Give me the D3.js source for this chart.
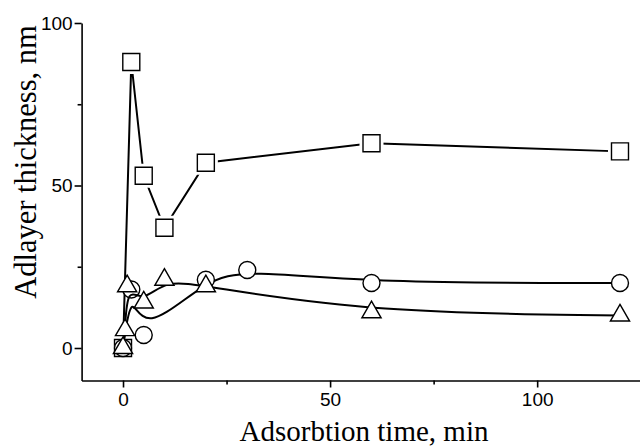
<!DOCTYPE html>
<html>
<head>
<meta charset="utf-8">
<script src="https://cdn.jsdelivr.net/npm/d3@7"></script>
<style>
    body { margin: 0; background: #fff; }
    svg { display: block; }
</style>
</head>
<body>
<div id="chartArea"></div>
<script>
// Data
const squareTime = [0, 2, 5, 10, 20, 60, 120];
const squareThick = [0, 88, 53, 37, 57, 63, 60.5];

const circleTime = [0, 2, 5, 20, 30, 60, 120];
const circleThick = [0, 18, 4, 21, 24, 20, 20];

const triangleTime = [0, 0.5, 1, 5, 10, 20, 60, 120];
const triangleThick = [0, 5.5, 19, 14, 21, 19, 11, 10];

const xTicks = [0, 50, 100];
const xMinorTicks = [25, 75, 125];
const yTicks = [0, 50, 100];
const yMinorTicks = [25, 75];

const width = 640;
const height = 447;

const svg = d3.select('#chartArea')
    .append('svg')
    .attr('width', width)
    .attr('height', height);

// Scales
const xScale = d3.scaleLinear()
    .domain([-10, 125])
    .range([81.6, 640.7]);
const yScale = d3.scaleLinear()
    .domain([-10, 100])
    .range([380.5, 23]);

// Axes
const tickFont = '"Liberation Sans", Arial, sans-serif';

svg.append('g')
    .attr('transform', `translate(0,${yScale(-10)})`)
    .call(d3.axisBottom(xScale).tickValues(xTicks).tickSize(7).tickSizeOuter(0).tickPadding(5));
svg.append('g')
    .attr('transform', `translate(0,${yScale(-10)})`)
    .call(d3.axisBottom(xScale).tickValues(xMinorTicks).tickSize(4).tickSizeOuter(0).tickFormat(''))
    .select('.domain').remove();

svg.append('g')
    .attr('transform', `translate(${xScale(-10)},0)`)
    .call(d3.axisLeft(yScale).tickValues(yTicks).tickSize(7).tickSizeOuter(0).tickPadding(2));
svg.append('g')
    .attr('transform', `translate(${xScale(-10)},0)`)
    .call(d3.axisLeft(yScale).tickValues(yMinorTicks).tickSize(4).tickSizeOuter(0).tickFormat(''))
    .select('.domain').remove();

svg.selectAll('.domain, .tick line')
    .attr('stroke', '#000')
    .attr('stroke-width', 1.6);
svg.selectAll('.tick text')
    .attr('fill', '#000')
    .style('font-family', tickFont)
    .style('font-size', '19px');

// Axis titles
svg.append('text')
    .attr('x', 364)
    .attr('y', 441)
    .attr('text-anchor', 'middle')
    .style('font-family', '"Liberation Serif", "Times New Roman", serif')
    .style('font-size', '29px')
    .text('Adsorbtion time, min');

svg.append('text')
    .attr('transform', 'translate(36,162) rotate(-90)')
    .attr('text-anchor', 'middle')
    .style('font-family', '"Liberation Serif", "Times New Roman", serif')
    .style('font-size', '30.5px')
    .text('Adlayer thickness, nm');

// Helper to zip arrays into points
function toPoints(xs, ys) {
    return xs.map((t, i) => ({t: t, v: ys[i]}));
}

// Draw one series: line, then markers
function drawSeries(xs, ys, curve, symbolType, symbolSize, halo) {
    const pts = toPoints(xs, ys);
    const g = svg.append('g');

    g.append('path')
        .datum(pts)
        .attr('fill', 'none')
        .attr('stroke', '#000')
        .attr('stroke-width', 2)
        .attr('d', d3.line()
            .curve(curve)
            .x(d => xScale(d.t))
            .y(d => yScale(d.v))
        );

    if (halo) {
        g.selectAll('path.halo')
            .data(pts)
            .enter()
            .append('path')
            .attr('class', 'halo')
            .attr('transform', d => `translate(${xScale(d.t)},${yScale(d.v)})`)
            .attr('d', d3.symbol().type(symbolType).size(halo))
            .attr('fill', '#fff');
    }

    g.selectAll('path.marker')
        .data(pts)
        .enter()
        .append('path')
        .attr('class', 'marker')
        .attr('transform', d => `translate(${xScale(d.t)},${yScale(d.v)})`)
        .attr('d', d3.symbol().type(symbolType).size(symbolSize))
        .attr('fill', '#fff')
        .attr('stroke', '#000')
        .attr('stroke-width', 1.4);
}

drawSeries(squareTime, squareThick, d3.curveLinear, d3.symbolSquare, 17 * 17, 24 * 24);
drawSeries(circleTime, circleThick, d3.curveBasis, d3.symbolCircle, Math.PI * 8.5 * 8.5, 0);
drawSeries(triangleTime, triangleThick, d3.curveBasis, d3.symbolTriangle, 160, 0);
</script>
</body>
</html>
